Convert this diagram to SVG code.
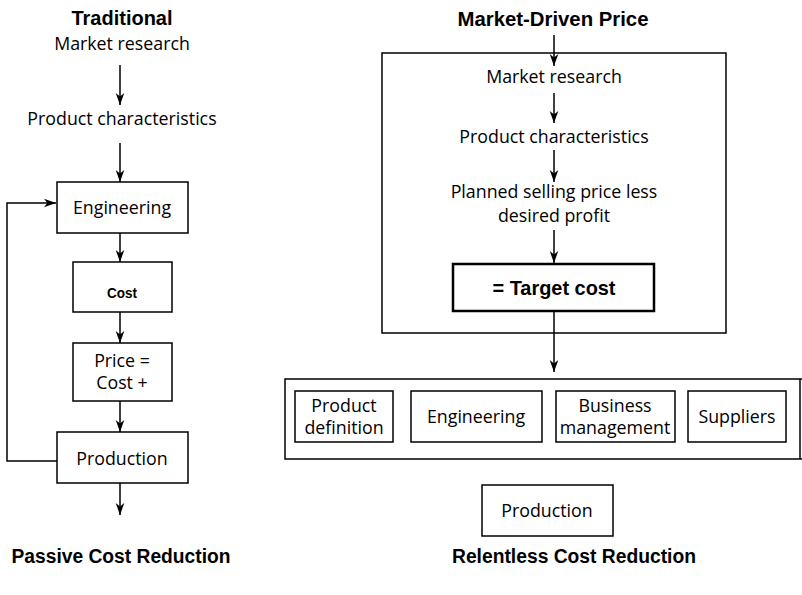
<svg xmlns="http://www.w3.org/2000/svg" width="802" height="595" viewBox="0 0 802 595">
<defs>
<marker id="ah" markerUnits="userSpaceOnUse" markerWidth="12" markerHeight="10" viewBox="0 0 14 10" refX="14" refY="5" orient="auto">
<path d="M0,0 L14,5 L0,10 L4,5 z" fill="#000"/>
</marker>
<style>
.t{font-family:"Open Sans","Noto Sans",sans-serif;font-size:17.8px;fill:#000;text-anchor:middle}
.h{font-family:"Liberation Sans",Arial,sans-serif;font-weight:bold;fill:#000;text-anchor:middle}
.b{fill:#fff;stroke:#000;stroke-width:1.5}
.c{fill:none;stroke:#000;stroke-width:1.5;marker-end:url(#ah)}
.l{fill:none;stroke:#000;stroke-width:1.5}
</style>
</defs>
<rect width="802" height="595" fill="#fff"/>

<g id="titles">
<text class="h" x="122" y="25" font-size="21" textLength="101" lengthAdjust="spacingAndGlyphs">Traditional</text>
<text class="h" x="553" y="26" font-size="20" textLength="191" lengthAdjust="spacingAndGlyphs">Market-Driven Price</text>
<text class="h" x="121" y="563" font-size="20" textLength="219" lengthAdjust="spacingAndGlyphs">Passive Cost Reduction</text>
<text class="h" x="574" y="563" font-size="20" textLength="244" lengthAdjust="spacingAndGlyphs">Relentless Cost Reduction</text>
</g>

<g id="left-market-research"><text class="t" x="122" y="50">Market research</text></g>
<g id="left-product-characteristics"><text class="t" x="122" y="125">Product characteristics</text></g>
<g id="left-engineering"><rect class="b" x="57" y="182" width="131" height="51"/><text class="t" x="122" y="214">Engineering</text></g>
<g id="left-cost"><rect class="b" x="73" y="262" width="99" height="50"/><text class="h" x="122" y="298" font-size="15" textLength="30" lengthAdjust="spacingAndGlyphs">Cost</text></g>
<g id="left-price"><rect class="b" x="73" y="343" width="99" height="58"/><text class="t" x="122" y="367">Price =</text><text class="t" x="122" y="389">Cost +</text></g>
<g id="left-production"><rect class="b" x="57" y="432" width="131" height="51"/><text class="t" x="122" y="465">Production</text></g>

<g id="right-frame"><rect class="l" x="382" y="53" width="344" height="280"/></g>
<g id="right-market-research"><text class="t" x="554" y="83">Market research</text></g>
<g id="right-product-characteristics"><text class="t" x="554" y="143">Product characteristics</text></g>
<g id="right-planned"><text class="t" x="554" y="198">Planned selling price less</text><text class="t" x="554" y="222">desired profit</text></g>
<g id="right-target-cost"><rect x="453" y="264" width="201" height="47" fill="#fff" stroke="#000" stroke-width="2.5"/><text class="h" x="554" y="295" font-size="21" textLength="123" lengthAdjust="spacingAndGlyphs">= Target cost</text></g>

<g id="right-group"><path class="l" d="M802,379 H285 V459 H802"/><line class="l" x1="800" y1="379" x2="800" y2="459"/></g>
<g id="right-product-definition"><rect class="b" x="295" y="391" width="98" height="51"/><text class="t" x="344" y="412">Product</text><text class="t" x="344" y="434">definition</text></g>
<g id="right-engineering"><rect class="b" x="411" y="391" width="131" height="51"/><text class="t" x="476" y="423">Engineering</text></g>
<g id="right-business-management"><rect class="b" x="556" y="391" width="119" height="51"/><text class="t" x="615" y="412">Business</text><text class="t" x="615" y="434">management</text></g>
<g id="right-suppliers"><rect class="b" x="688" y="391" width="98" height="51"/><text class="t" x="737" y="423">Suppliers</text></g>
<g id="right-production"><rect class="b" x="482" y="485" width="131" height="51"/><text class="t" x="547" y="517">Production</text></g>

<g id="connectors">
<line class="c" x1="120" y1="65" x2="120" y2="105"/>
<line class="c" x1="120" y1="143" x2="120" y2="182"/>
<line class="c" x1="120" y1="233" x2="120" y2="262"/>
<line class="c" x1="120" y1="312" x2="120" y2="343"/>
<line class="c" x1="120" y1="401" x2="120" y2="432"/>
<line class="c" x1="120" y1="483" x2="120" y2="515"/>
<path class="c" d="M57,461 H7 V203 H56"/>
<line class="c" x1="554" y1="35" x2="554" y2="66"/>
<line class="c" x1="554" y1="93" x2="554" y2="123"/>
<line class="c" x1="554" y1="150" x2="554" y2="182"/>
<line class="c" x1="554" y1="230" x2="554" y2="263"/>
<line class="c" x1="554" y1="311" x2="554" y2="372"/>
</g>
</svg>
